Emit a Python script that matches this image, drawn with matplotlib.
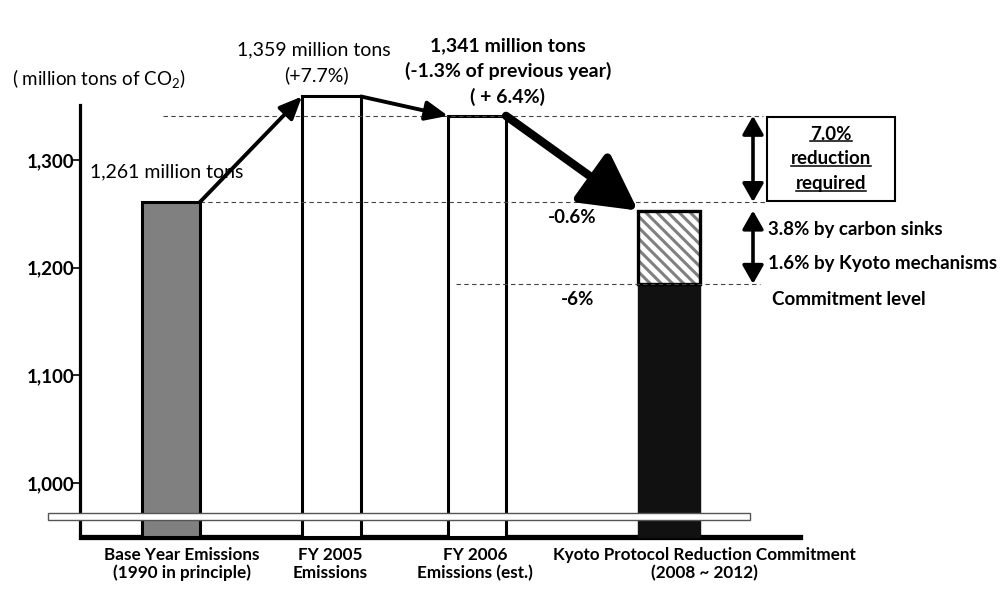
import matplotlib
matplotlib.use('Agg')
import matplotlib.pyplot as plt
from matplotlib.patches import Rectangle

plt.rcParams['font.family'] = ['Lato', 'DejaVu Sans']
plt.rcParams['mathtext.fontset'] = 'custom'
plt.rcParams['mathtext.rm'] = 'Lato'
plt.rcParams['hatch.linewidth'] = 2.2

# emissions in million tons of CO2
categories = ['Base Year Emissions\n(1990 in principle)', 'FY 2005\nEmissions',
              'FY 2006\nEmissions (est.)', 'Kyoto Protocol Reduction Commitment\n(2008 ~ 2012)']
emissions = [1261, 1359, 1341]
commitment = 1185        # -6% of base year
offset_level = 1253      # -0.6% of base year (after sinks and Kyoto mechanisms)
yticks = [1000, 1100, 1200, 1300]
ytick_labels = ['1,000', '1,100', '1,200', '1,300']

# layout: x in pixels, y in million tons
PX = 1.0767                  # pixels per million tons
def yv(px):
    return 1300 - (px - 160) / PX

bar_x = [171, 331.5, 477, 669]
bar_w = [58, 59, 58, 62]
label_x = [182, 330, 475, 704]
base = yv(537)

fig = plt.figure(figsize=(10.08, 5.90), dpi=100)
ax = fig.add_axes([0, 0, 1, 1])
ax.set_xlim(0, 1008)
ax.set_ylim(yv(590), yv(0))
ax.patch.set_alpha(0)

for s in ['top', 'right']:
    ax.spines[s].set_visible(False)
ax.spines['left'].set_position(('data', 80))
ax.spines['left'].set_bounds(yv(533), yv(105))
ax.spines['left'].set_linewidth(2.3)
ax.spines['bottom'].set_position(('data', base))
ax.spines['bottom'].set_bounds(81, 800)
ax.spines['bottom'].set_linewidth(3.8)

ax.set_yticks(yticks)
ax.set_yticklabels(ytick_labels, fontsize=13.5, fontweight='bold')
ax.tick_params(axis='y', length=5, width=1.2, pad=-1)
# category labels sit under the bars, the long one shifted right
ax.set_xticks(label_x)
ax.set_xticklabels(categories, fontsize=12.3, fontweight='bold', linespacing=1.15)
ax.tick_params(axis='x', length=0, pad=7)

# bars
colors = ['#808080', 'white', 'white']
for i in range(3):
    ax.bar(bar_x[i], emissions[i] - base, width=bar_w[i], bottom=base,
           color=colors[i], edgecolor='black', linewidth=2.2, zorder=3)
ax.bar(bar_x[3], commitment - base, width=bar_w[3], bottom=base,
       color='#111111', edgecolor='#111111', linewidth=1, zorder=3)
ax.bar(bar_x[3], offset_level - commitment, width=bar_w[3], bottom=commitment,
       color='white', edgecolor='#808080', hatch='\\\\\\', linewidth=0, zorder=3)
ax.bar(bar_x[3], offset_level - commitment, width=bar_w[3], bottom=commitment,
       fill=False, edgecolor='black', linewidth=2.4, zorder=4)

# axis break strip
ax.add_patch(Rectangle((48, yv(520)), 702, yv(513) - yv(520), facecolor='white',
                       edgecolor='#555555', linewidth=1, zorder=6, clip_on=False))

# reference dashed lines
dash = dict(color='#444444', linewidth=0.8, linestyle=(0, (4, 3)), zorder=5)
ax.plot([163, 763], [emissions[2], emissions[2]], **dash)
ax.plot([bar_x[0] + bar_w[0] / 2, 767], [emissions[0], emissions[0]], **dash)
ax.plot([456, 760], [commitment, commitment], **dash)

# arrows between bars
def right(i):
    return bar_x[i] + bar_w[i] / 2

def left(i):
    return bar_x[i] - bar_w[i] / 2

thin = dict(arrowstyle='-|>,head_length=0.8,head_width=0.35', lw=2.8, color='black',
            shrinkA=0, shrinkB=0, mutation_scale=17)
ax.annotate('', xy=(left(1), emissions[1]), xytext=(right(0), emissions[0]),
            arrowprops=thin, zorder=7)
ax.annotate('', xy=(left(2), emissions[2]), xytext=(right(1), emissions[1]),
            arrowprops=thin, zorder=7)
ax.annotate('', xy=(left(3), offset_level), xytext=(right(2), emissions[2]),
            arrowprops=dict(arrowstyle='-|>,head_length=1.3,head_width=0.7', lw=6,
                            color='black', shrinkA=0, shrinkB=0, mutation_scale=26), zorder=7)

# vertical range arrows
vert = dict(arrowstyle='<|-|>,head_length=0.7,head_width=0.4', lw=2.6, color='black',
            shrinkA=0, shrinkB=0, mutation_scale=16)
ax.annotate('', xy=(753, emissions[0]), xytext=(753, emissions[2]), arrowprops=vert, zorder=7)
ax.annotate('', xy=(753, commitment), xytext=(753, offset_level), arrowprops=vert, zorder=7)

# texts
ax.text(12, yv(79), '( million tons of CO$_2$)', fontsize=13.5, ha='left', va='center')
ax.text(90, emissions[0] + 28, '1,261 million tons', fontsize=14, ha='left', va='center')
ax.text(314, emissions[1] + 43, '1,359 million tons', fontsize=14, ha='center', va='center')
ax.text(316, emissions[1] + 20, '(+7.7%)', fontsize=14, ha='center', va='center')
ax.text(508, emissions[2] + 65, '1,341 million tons', fontsize=14, fontweight='bold',
        ha='center', va='center')
ax.text(508, emissions[2] + 42, '(-1.3% of previous year)', fontsize=14, fontweight='bold',
        ha='center', va='center')
ax.text(508, emissions[2] + 18, '( + 6.4%)', fontsize=14, fontweight='bold',
        ha='center', va='center')

ax.text(572, offset_level - 6, '-0.6%', fontsize=13.5, fontweight='bold', ha='center', va='center')
ax.text(578, commitment - 15, '-6%', fontsize=13.5, fontweight='bold', ha='center', va='center')
ax.text(768, offset_level - 18, '3.8% by carbon sinks', fontsize=13.5, fontweight='bold',
        ha='left', va='center')
ax.text(768, offset_level - 49, '1.6% by Kyoto mechanisms', fontsize=13.5, fontweight='bold',
        ha='left', va='center')
ax.text(772, commitment - 15, 'Commitment level', fontsize=13.5, fontweight='bold',
        ha='left', va='center')

# boxed note with underlined lines
mid = (emissions[2] + emissions[0]) / 2
ax.add_patch(Rectangle((767, emissions[0] + 1), 128, emissions[2] - emissions[0] - 2,
                       facecolor='white', edgecolor='black', linewidth=1.5, zorder=5))
fig.canvas.draw()
renderer = fig.canvas.get_renderer()
for k, line in enumerate(['7.0%', 'reduction', 'required']):
    t = ax.text(831, mid + (1 - k) * 23, line, fontsize=13.5, fontweight='bold',
                ha='center', va='center', zorder=6)
    bb = t.get_window_extent(renderer).transformed(ax.transData.inverted())
    ax.plot([bb.x0, bb.x1], [bb.y0 + 1.5, bb.y0 + 1.5], color='black', lw=1.1, zorder=6)

fig.savefig('out.png', dpi=100)
